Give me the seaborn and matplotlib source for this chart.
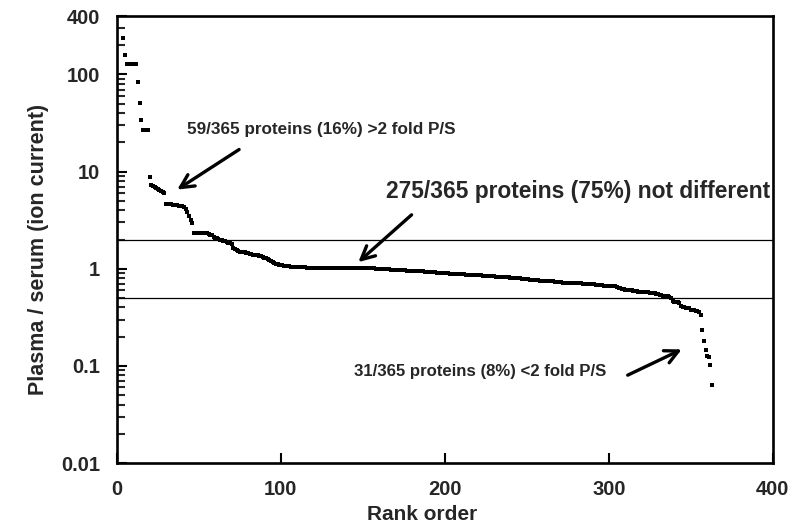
import numpy as np
import pandas as pd
import seaborn as sns
import matplotlib
matplotlib.use("Agg")
import matplotlib.pyplot as plt
from matplotlib.ticker import LogLocator, NullFormatter

# plasma / serum ion current ratio, ranked
first_rank = 4
ratios = [
    240, 157, 127, 127, 127, 127, 127, 127, 127, 84, 51, 34, 27, 27, 27, 27,
    8.8, 7.3, 7.1, 6.9, 6.8, 6.6, 6.4, 6.3, 6.1, 6.0,
    4.65, 4.65, 4.6, 4.6, 4.55, 4.55, 4.5, 4.5, 4.45, 4.45, 4.4, 4.3,
    4.1, 3.8, 3.5, 3.2, 2.95,
    2.36, 2.36, 2.35, 2.35, 2.34, 2.34, 2.33, 2.33, 2.32, 2.3, 2.25, 2.2,
    2.1, 2.07, 2.05, 2.02, 2.0, 1.97, 1.94, 1.91, 1.88, 1.85, 1.82, 1.78,
    1.62, 1.58, 1.55, 1.52, 1.5, 1.49, 1.48, 1.47, 1.46, 1.44, 1.42, 1.41,
    1.4, 1.39, 1.38, 1.37, 1.36,
    1.34, 1.32, 1.3, 1.28, 1.25, 1.22, 1.19, 1.17, 1.15, 1.13, 1.12, 1.1,
    1.09, 1.08, 1.07, 1.07, 1.06, 1.06,
    1.05, 1.05, 1.05, 1.04, 1.04, 1.04, 1.04, 1.03, 1.03, 1.03,
    1.02, 1.02, 1.02, 1.02, 1.02, 1.02, 1.02, 1.02, 1.02, 1.02,
    1.02, 1.02, 1.02, 1.02, 1.02, 1.02, 1.02, 1.02, 1.02, 1.02,
    1.02, 1.02, 1.02, 1.02, 1.02, 1.02, 1.02, 1.02, 1.02, 1.02,
    1.02, 1.02, 1.02, 1.02, 1.02, 1.02, 1.02, 1.02, 1.02,
    1.01, 1.01, 1.01, 1.0, 1.0, 1.0, 1.0, 1.0, 0.99, 0.99,
    0.99, 0.99, 0.98, 0.98, 0.98, 0.97, 0.97, 0.97, 0.96, 0.96,
    0.96, 0.96, 0.95, 0.95, 0.95, 0.95, 0.95, 0.94, 0.94, 0.94,
    0.94, 0.94, 0.94, 0.93, 0.93, 0.93, 0.92, 0.92, 0.92, 0.92,
    0.91, 0.91, 0.91, 0.91, 0.9, 0.9, 0.9, 0.9, 0.89, 0.89,
    0.89, 0.89, 0.89, 0.88, 0.88, 0.88, 0.88, 0.88, 0.87, 0.87,
    0.87, 0.87, 0.87, 0.87, 0.86, 0.86, 0.86, 0.86, 0.85, 0.85,
    0.85, 0.85, 0.84, 0.84, 0.84, 0.84, 0.83, 0.83, 0.83, 0.83,
    0.82, 0.82, 0.82, 0.82, 0.82, 0.81, 0.81, 0.81, 0.81, 0.8,
    0.8, 0.8, 0.79, 0.79, 0.78, 0.78, 0.78, 0.77, 0.77, 0.77,
    0.76, 0.76, 0.76, 0.75, 0.75, 0.75, 0.75, 0.74, 0.74, 0.74,
    0.74, 0.74, 0.73, 0.73, 0.73, 0.73, 0.73, 0.72, 0.72, 0.72,
    0.72, 0.72, 0.72, 0.71, 0.71, 0.71, 0.71, 0.71, 0.71, 0.7,
    0.7, 0.7, 0.7, 0.69, 0.69, 0.69, 0.69, 0.68, 0.68, 0.68,
    0.68, 0.68, 0.67, 0.67, 0.67, 0.67, 0.66, 0.66, 0.66, 0.66,
    0.65, 0.64, 0.63, 0.62, 0.62, 0.61, 0.61, 0.61, 0.6, 0.6,
    0.59, 0.59, 0.59, 0.58, 0.58, 0.58, 0.57, 0.57, 0.57, 0.57,
    0.56, 0.56, 0.56, 0.56, 0.55, 0.55, 0.54, 0.54, 0.53, 0.53,
    0.52, 0.52, 0.51, 0.5,
    0.47, 0.46, 0.45, 0.45, 0.44,
    0.41, 0.4, 0.4, 0.39, 0.39, 0.39, 0.38, 0.38, 0.38, 0.37, 0.37, 0.36,
    0.335, 0.235, 0.18, 0.144, 0.126, 0.124, 0.101, 0.064,
]
fold_limits = [2, 0.5]
y_ticks = [0.01, 0.1, 1, 10, 100, 400]
y_labels = ["0.01", "0.1", "1", "10", "100", "400"]
x_ticks = [0, 100, 200, 300, 400]

df = pd.DataFrame({"rank": np.arange(first_rank, first_rank + len(ratios)),
                   "ratio": ratios})

sns.set_style("ticks")
plt.rcParams["font.family"] = ["Liberation Sans", "DejaVu Sans"]
plt.rcParams["font.weight"] = "bold"

fig = plt.figure(figsize=(8, 5.3), dpi=100)
ax = fig.add_axes([0.146, 0.1264, 0.82, 0.8434])

sns.scatterplot(data=df, x="rank", y="ratio", ax=ax, marker="s", s=9,
                color="black", linewidth=0, legend=False)
for lim in fold_limits:
    ax.axhline(lim, color="black", lw=0.9)

ax.set_yscale("log")
ax.set_xlim(0, 400)
ax.set_ylim(0.01, 400)
ax.set_yticks(y_ticks)
ax.set_yticklabels(y_labels)
ax.yaxis.set_minor_locator(LogLocator(base=10, subs=np.arange(2, 10)))
ax.yaxis.set_minor_formatter(NullFormatter())
ax.set_xticks(x_ticks)

for s in ax.spines.values():
    s.set_linewidth(1.9)
    s.set_color("black")
ax.tick_params(axis="both", which="major", direction="in", length=7.2,
               width=1.5, labelsize=14.5, color="black")
ax.tick_params(axis="x", pad=12)
ax.tick_params(axis="y", pad=12)
ax.tick_params(axis="y", which="minor", direction="in", length=5.5, width=1.5)
ax.tick_params(top=False, right=False)
for lab in ax.get_xticklabels() + ax.get_yticklabels():
    lab.set_fontweight("bold")

ax.set_xlabel("Rank order", fontsize=15, fontweight="bold")
ax.set_ylabel("Plasma / serum (ion current)", fontsize=15.5, fontweight="bold")
ax.xaxis.set_label_coords(0.465, -0.095)
ax.yaxis.set_label_coords(-0.103, 0.478)

arrow = dict(arrowstyle="->", color="black", lw=2.4, mutation_scale=24)
ax.annotate("", xy=(35.4, 6.3), xytext=(76, 17.5), arrowprops=arrow)
ax.annotate("", xy=(146, 1.12), xytext=(181, 3.75), arrowprops=arrow)
ax.annotate("", xy=(346, 0.152), xytext=(310, 0.078), arrowprops=arrow)

ax.text(42.7, 27, "59/365 proteins (16%) >2 fold P/S", fontsize=12.3,
        fontweight="bold", va="center", ha="left")
ax.text(164, 6.3, "275/365 proteins (75%) not different", fontsize=16.4,
        fontweight="bold", va="center", ha="left")
ax.text(144.5, 0.087, "31/365 proteins (8%) <2 fold P/S", fontsize=12.1,
        fontweight="bold", va="center", ha="left")

fig.savefig("out.png", dpi=100)
